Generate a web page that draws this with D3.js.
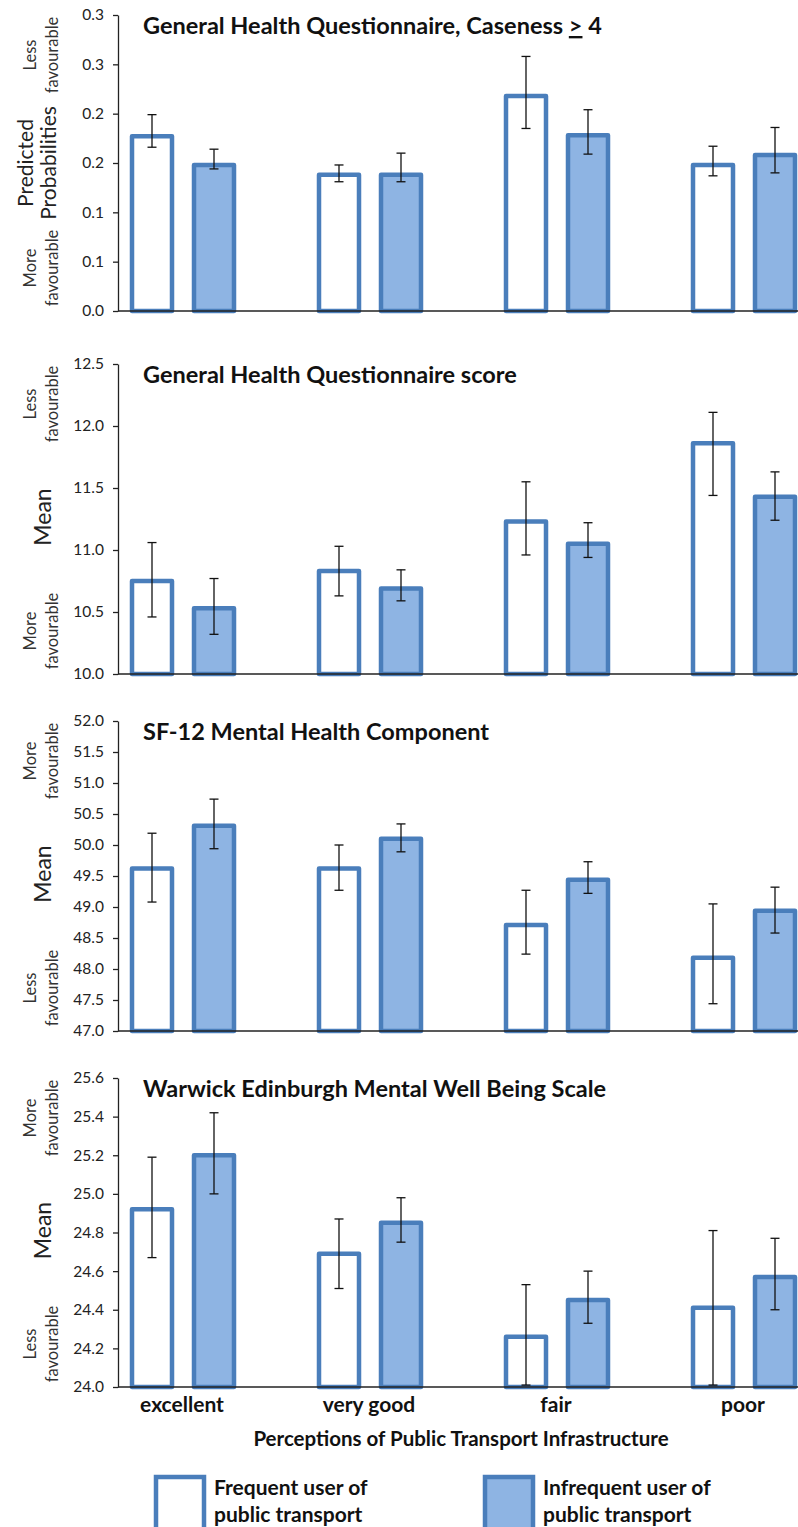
<!DOCTYPE html>
<html><head><meta charset="utf-8">
<title>Perceptions of public transport</title>
<script src="https://d3js.org/d3.v7.min.js"></script>
<style>
  body { margin: 0; background: #fff; }
  svg text { font-family: Lato, "Open Sans", sans-serif; fill: #111; }
  .tick text { font-size: 15.5px; fill: #222; }
  .title { font-size: 23.5px; font-weight: bold; }
  .cat { font-size: 21px; font-weight: bold; }
  .xtitle { font-size: 20.5px; font-weight: bold; }
  .leg { font-size: 21px; font-weight: bold; }
  .small { font-size: 16.5px; fill: #333; }
  .big { font-size: 21px; fill: #222; }
</style>
</head>
<body>
<div id="chart"></div>
<script>
// categories and series
var categories = ["excellent", "very good", "fair", "poor"];
var seriesNames = ["Frequent user of public transport", "Infrequent user of public transport"];

// GHQ caseness >= 4 (predicted probabilities)
var ghqCaseFreq   = [0.177, 0.138, 0.218, 0.148];
var ghqCaseFreqLo = [0.166, 0.131, 0.185, 0.137];
var ghqCaseFreqHi = [0.199, 0.148, 0.258, 0.167];
var ghqCaseInf    = [0.148, 0.138, 0.178, 0.158];
var ghqCaseInfLo  = [0.144, 0.131, 0.159, 0.140];
var ghqCaseInfHi  = [0.164, 0.160, 0.204, 0.186];
var ghqCaseTicks  = [0, 0.05, 0.10, 0.15, 0.20, 0.25, 0.30];

// GHQ score (mean)
var ghqScoreFreq   = [10.75, 10.83, 11.23, 11.86];
var ghqScoreFreqLo = [10.46, 10.63, 10.96, 11.44];
var ghqScoreFreqHi = [11.06, 11.03, 11.55, 12.11];
var ghqScoreInf    = [10.53, 10.69, 11.05, 11.43];
var ghqScoreInfLo  = [10.32, 10.59, 10.94, 11.24];
var ghqScoreInfHi  = [10.77, 10.84, 11.22, 11.63];
var ghqScoreTicks  = [10.0, 10.5, 11.0, 11.5, 12.0, 12.5];

// SF-12 mental health component (mean)
var sf12Freq   = [49.62, 49.62, 48.71, 48.18];
var sf12FreqLo = [49.08, 49.27, 48.24, 47.44];
var sf12FreqHi = [50.19, 50.00, 49.27, 49.05];
var sf12Inf    = [50.31, 50.10, 49.44, 48.94];
var sf12InfLo  = [49.94, 49.89, 49.22, 48.58];
var sf12InfHi  = [50.74, 50.34, 49.73, 49.32];
var sf12Ticks  = [47.0, 47.5, 48.0, 48.5, 49.0, 49.5, 50.0, 50.5, 51.0, 51.5, 52.0];

// WEMWBS (mean)
var wembFreq   = [24.92, 24.69, 24.26, 24.41];
var wembFreqLo = [24.67, 24.51, 24.01, 24.01];
var wembFreqHi = [25.19, 24.87, 24.53, 24.81];
var wembInf    = [25.20, 24.85, 24.45, 24.57];
var wembInfLo  = [25.00, 24.75, 24.33, 24.40];
var wembInfHi  = [25.42, 24.98, 24.60, 24.77];
var wembTicks  = [24.0, 24.2, 24.4, 24.6, 24.8, 25.0, 25.2, 25.4, 25.6];

var W = 798, H = 1527;
var axisX = 118;
var stroke = "#4a7ebb", fillInf = "#8eb4e3";

function fmtRound(d) { return (Math.round(d * 10 + 1e-9) / 10).toFixed(1); }

var panels = [
  { title: ["General Health Questionnaire, Caseness ", ">", " 4"], top: 15, bottom: 311,
    ticks: ghqCaseTicks, fmt: fmtRound, ylab: ["Predicted", "Probabilities"],
    upper: "Less", lower: "More",
    freq: ghqCaseFreq, freqLo: ghqCaseFreqLo, freqHi: ghqCaseFreqHi,
    inf: ghqCaseInf, infLo: ghqCaseInfLo, infHi: ghqCaseInfHi },
  { title: ["General Health Questionnaire score"], top: 364, bottom: 674,
    ticks: ghqScoreTicks, fmt: d3.format(".1f"), ylab: ["Mean"],
    upper: "Less", lower: "More",
    freq: ghqScoreFreq, freqLo: ghqScoreFreqLo, freqHi: ghqScoreFreqHi,
    inf: ghqScoreInf, infLo: ghqScoreInfLo, infHi: ghqScoreInfHi },
  { title: ["SF-12 Mental Health Component"], top: 721, bottom: 1031,
    ticks: sf12Ticks, fmt: d3.format(".1f"), ylab: ["Mean"],
    upper: "More", lower: "Less",
    freq: sf12Freq, freqLo: sf12FreqLo, freqHi: sf12FreqHi,
    inf: sf12Inf, infLo: sf12InfLo, infHi: sf12InfHi },
  { title: ["Warwick Edinburgh Mental Well Being Scale"], top: 1078, bottom: 1387,
    ticks: wembTicks, fmt: d3.format(".1f"), ylab: ["Mean"],
    upper: "More", lower: "Less",
    freq: wembFreq, freqLo: wembFreqLo, freqHi: wembFreqHi,
    inf: wembInf, infLo: wembInfLo, infHi: wembInfHi }
];

var svg = d3.select("#chart").append("svg")
  .attr("width", W).attr("height", H)
  .attr("viewBox", "0 0 " + W + " " + H);

var x = d3.scaleBand().domain(categories).range([axisX, axisX + 4 * 187]);
var xSub = d3.scaleBand().domain([0, 1]).range([3, 127]);
var barW = 40;

function vtext(g, cx, cy, str, cls) {
  g.append("text").attr("class", cls)
    .attr("transform", "translate(" + cx + "," + cy + ") rotate(-90)")
    .attr("text-anchor", "middle").text(str);
}

panels.forEach(function (p) {
  var y = d3.scaleLinear()
    .domain([p.ticks[0], p.ticks[p.ticks.length - 1]])
    .range([p.bottom, p.top]);
  var g = svg.append("g");
  var base = p.ticks[0];

  var rows = [];
  categories.forEach(function (c, i) {
    rows.push({ c: c, s: 0, v: p.freq[i], lo: p.freqLo[i], hi: p.freqHi[i] });
    rows.push({ c: c, s: 1, v: p.inf[i], lo: p.infLo[i], hi: p.infHi[i] });
  });

  function cx(d) { return x(d.c) + xSub(d.s) + xSub.bandwidth() / 2; }

  g.selectAll("rect.bar").data(rows).enter().append("rect")
    .attr("class", "bar")
    .attr("x", function (d) { return cx(d) - barW / 2; })
    .attr("y", function (d) { return y(d.v); })
    .attr("width", barW)
    .attr("height", function (d) { return y(base) - y(d.v); })
    .attr("fill", function (d) { return d.s ? fillInf : "#fff"; })
    .attr("stroke", stroke).attr("stroke-width", 4.5)
    .attr("stroke-linejoin", "round");

  // error bars
  var eb = g.selectAll("g.err").data(rows).enter().append("g")
    .attr("stroke", "#111").attr("stroke-width", 1.3);
  eb.append("line")
    .attr("x1", cx).attr("x2", cx)
    .attr("y1", function (d) { return y(d.lo); })
    .attr("y2", function (d) { return y(d.hi); });
  eb.append("line")
    .attr("x1", function (d) { return cx(d) - 4.5; })
    .attr("x2", function (d) { return cx(d) + 4.5; })
    .attr("y1", function (d) { return y(d.lo); })
    .attr("y2", function (d) { return y(d.lo); });
  eb.append("line")
    .attr("x1", function (d) { return cx(d) - 4.5; })
    .attr("x2", function (d) { return cx(d) + 4.5; })
    .attr("y1", function (d) { return y(d.hi); })
    .attr("y2", function (d) { return y(d.hi); });

  // x baseline
  g.append("line")
    .attr("x1", axisX).attr("x2", W)
    .attr("y1", y(base)).attr("y2", y(base))
    .attr("stroke", "#222").attr("stroke-width", 1.5);

  // y axis
  var ax = g.append("g")
    .attr("transform", "translate(" + axisX + ",0)")
    .call(d3.axisLeft(y).tickValues(p.ticks).tickFormat(p.fmt)
      .tickSize(5).tickSizeOuter(0).tickPadding(9));
  ax.select(".domain").attr("stroke", "#222").attr("stroke-width", 1.3);
  ax.selectAll(".tick line").attr("stroke", "#222").attr("stroke-width", 1.3);

  // title
  var t = g.append("text").attr("class", "title")
    .attr("x", 143).attr("y", p.top + 19);
  p.title.forEach(function (s, i) {
    var ts = t.append("tspan").text(s);
    if (i === 1) ts.attr("text-decoration", "underline");
  });

  // y labels
  var mid = (p.top + p.bottom) / 2;
  if (p.ylab.length === 2) {
    vtext(g, 33, mid, p.ylab[0], "big");
    vtext(g, 56, mid, p.ylab[1], "big");
  } else {
    vtext(g, 51, mid - 2, p.ylab[0], "big big1");
  }
  vtext(g, 36, p.top + 40, p.upper, "small");
  vtext(g, 58, p.top + 40, "favourable", "small");
  vtext(g, 36, p.bottom - 43, p.lower, "small");
  vtext(g, 58, p.bottom - 43, "favourable", "small");
});

svg.selectAll(".big1").style("font-size", "23px");

// category labels
svg.selectAll("text.cat").data(categories).enter().append("text")
  .attr("class", "cat")
  .attr("x", function (d) { return x(d) + 64; })
  .attr("y", 1412)
  .attr("text-anchor", "middle")
  .text(function (d) { return d; });

svg.append("text").attr("class", "xtitle")
  .attr("x", 461).attr("y", 1446).attr("text-anchor", "middle")
  .text("Perceptions of Public Transport Infrastructure");

// legend
var legX = [156, 485];
var leg = svg.selectAll("g.leg").data(seriesNames).enter().append("g")
  .attr("transform", function (d, i) { return "translate(" + legX[i] + ",1477)"; });
leg.append("rect")
  .attr("width", 48).attr("height", 70)
  .attr("fill", function (d, i) { return i ? fillInf : "#fff"; })
  .attr("stroke", stroke).attr("stroke-width", 4.5);
leg.append("text").attr("class", "leg")
  .attr("x", 58).attr("y", 18)
  .text(function (d) { return d.replace(" public transport", ""); });
leg.append("text").attr("class", "leg")
  .attr("x", 58).attr("y", 45)
  .text("public transport");
</script>
</body></html>
